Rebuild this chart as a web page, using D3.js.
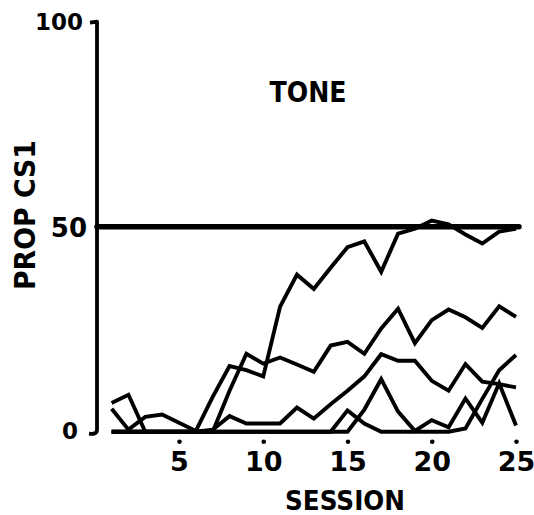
<!DOCTYPE html>
<html>
<head>
<meta charset="utf-8">
<script src="https://cdn.jsdelivr.net/npm/d3@7"></script>
<style>
  html, body { margin: 0; padding: 0; background: #fff; }
  svg { display: block; }
  text { font-family: "DejaVu Sans", sans-serif; font-weight: bold; fill: #000; }
</style>
</head>
<body>
<svg id="chart" width="534" height="515"></svg>
<script>
// ---- data ----
const sessions = d3.range(1, 26);
const seriesA = [5.6, 0.5, 3.6, 4.2, 2.2, 0.2, 8.5, 16, 15, 13.5, 30.5, 38.3, 34.8, 40, 45, 46.4, 39, 48.3, 49.5, 51.5, 50.6, 48.1, 45.9, 48.8, 49.5];
const seriesB = [7, 9, 0, 0, 0, 0, 0, 10, 19, 16.6, 18.1, 16.4, 14.6, 21, 21.9, 19, 25.2, 30, 21.6, 27.2, 29.8, 27.9, 25.3, 30.6, 28];
const seriesC = [0, 0, 0, 0, 0, 0, 0.5, 3.8, 2, 2, 2, 5.9, 3.2, 6.7, 10, 13.5, 18.9, 17.3, 17.3, 12.4, 10, 16.5, 12.2, 11.6, 10.8];
const seriesD = [0, 0, 0, 0, 0, 0, 0, 0, 0, 0, 0, 0, 0, 0, 5.2, 2, 0, 0, 0, 0, 0, 0.8, 8, 15, 18.7];
const seriesE = [0, 0, 0, 0, 0, 0, 0, 0, 0, 0, 0, 0, 0, 0, 0, 5.4, 12.8, 4.9, 0.2, 2.8, 1.1, 8.1, 2.2, 11.8, 1.5];
const criterion = 50;
const yTicks = [0, 50, 100];
const xTicks = [5, 10, 15, 20, 25];
const title = "TONE";
const xLabel = "SESSION";
const yLabel = "PROP CS1";

// ---- layout ----
const svg = d3.select("#chart");
const x = d3.scaleLinear().domain([1, 25]).range([111.6, 516]);
const y = d3.scaleLinear().domain([0, 100]).range([431.7, 21.7]);
const axisX = 97;

// y axis bracket line
const yAxisPath = d3.path();
yAxisPath.moveTo(axisX - 7, y(100) + 1);
yAxisPath.lineTo(axisX, y(100));
yAxisPath.lineTo(axisX, y(0) - 2);
yAxisPath.quadraticCurveTo(axisX, y(0) + 3, axisX - 8, y(0) + 2);
svg.append("path")
  .attr("d", yAxisPath.toString())
  .attr("fill", "none")
  .attr("stroke", "#000")
  .attr("stroke-width", 3.8)
  .attr("stroke-linejoin", "round");

// y tick labels via axis
const yAxis = d3.axisLeft(y).tickValues(yTicks).tickSize(0).tickPadding(0).tickFormat(d3.format("d"));
const yG = svg.append("g").attr("transform", `translate(${axisX},0)`).call(yAxis);
yG.select(".domain").remove();
yG.selectAll(".tick text")
  .attr("font-family", "DejaVu Sans, sans-serif")
  .attr("font-weight", "bold")
  .attr("fill", "#000")
  .attr("font-size", d => d === 50 ? 26 : 23)
  .attr("x", d => d === 0 ? -19 : d === 50 ? -10 : -14)
  .attr("dy", d => d === 0 ? "0.28em" : d === 50 ? "0.38em" : "0.32em");

// x axis ticks (dots) + labels via axis
const xAxis = d3.axisBottom(x).tickValues(xTicks).tickSize(0).tickPadding(0).tickFormat(d3.format("d"));
const xG = svg.append("g").attr("transform", `translate(0,${y(0)})`).call(xAxis);
xG.select(".domain").remove();
xG.selectAll(".tick text")
  .attr("font-family", "DejaVu Sans, sans-serif")
  .attr("font-weight", "bold")
  .attr("fill", "#000")
  .attr("font-size", 27)
  .attr("y", 20)
  .attr("dy", "0.71em");
xG.selectAll(".tick").append("circle")
  .attr("cx", 0).attr("cy", 10).attr("r", 2.3).attr("fill", "#000");

// criterion line at 50
svg.append("line")
  .attr("x1", axisX).attr("x2", x(25) + 3)
  .attr("y1", y(criterion)).attr("y2", y(criterion))
  .attr("stroke", "#000").attr("stroke-width", 5.5).attr("stroke-linecap", "round");

// series lines
const line = d3.line().x((d, i) => x(sessions[i])).y(d => y(d));
[seriesA, seriesB, seriesC, seriesD, seriesE].forEach(s => {
  svg.append("path")
    .datum(s)
    .attr("d", line)
    .attr("fill", "none")
    .attr("stroke", "#000")
    .attr("stroke-width", 3.9)
    .attr("stroke-linejoin", "miter")
    .attr("stroke-linecap", "butt");
});

// title and axis labels
svg.append("text")
  .attr("x", 308).attr("y", 102)
  .attr("text-anchor", "middle")
  .attr("font-size", 29)
  .attr("textLength", 77).attr("lengthAdjust", "spacingAndGlyphs")
  .text(title);

svg.append("text")
  .attr("x", 345).attr("y", 510)
  .attr("text-anchor", "middle")
  .attr("font-size", 27)
  .attr("textLength", 120).attr("lengthAdjust", "spacingAndGlyphs")
  .text(xLabel);

svg.append("text")
  .attr("transform", "translate(35,215) rotate(-90)")
  .attr("text-anchor", "middle")
  .attr("font-size", 29)
  .attr("textLength", 150).attr("lengthAdjust", "spacingAndGlyphs")
  .text(yLabel);
</script>
</body>
</html>
